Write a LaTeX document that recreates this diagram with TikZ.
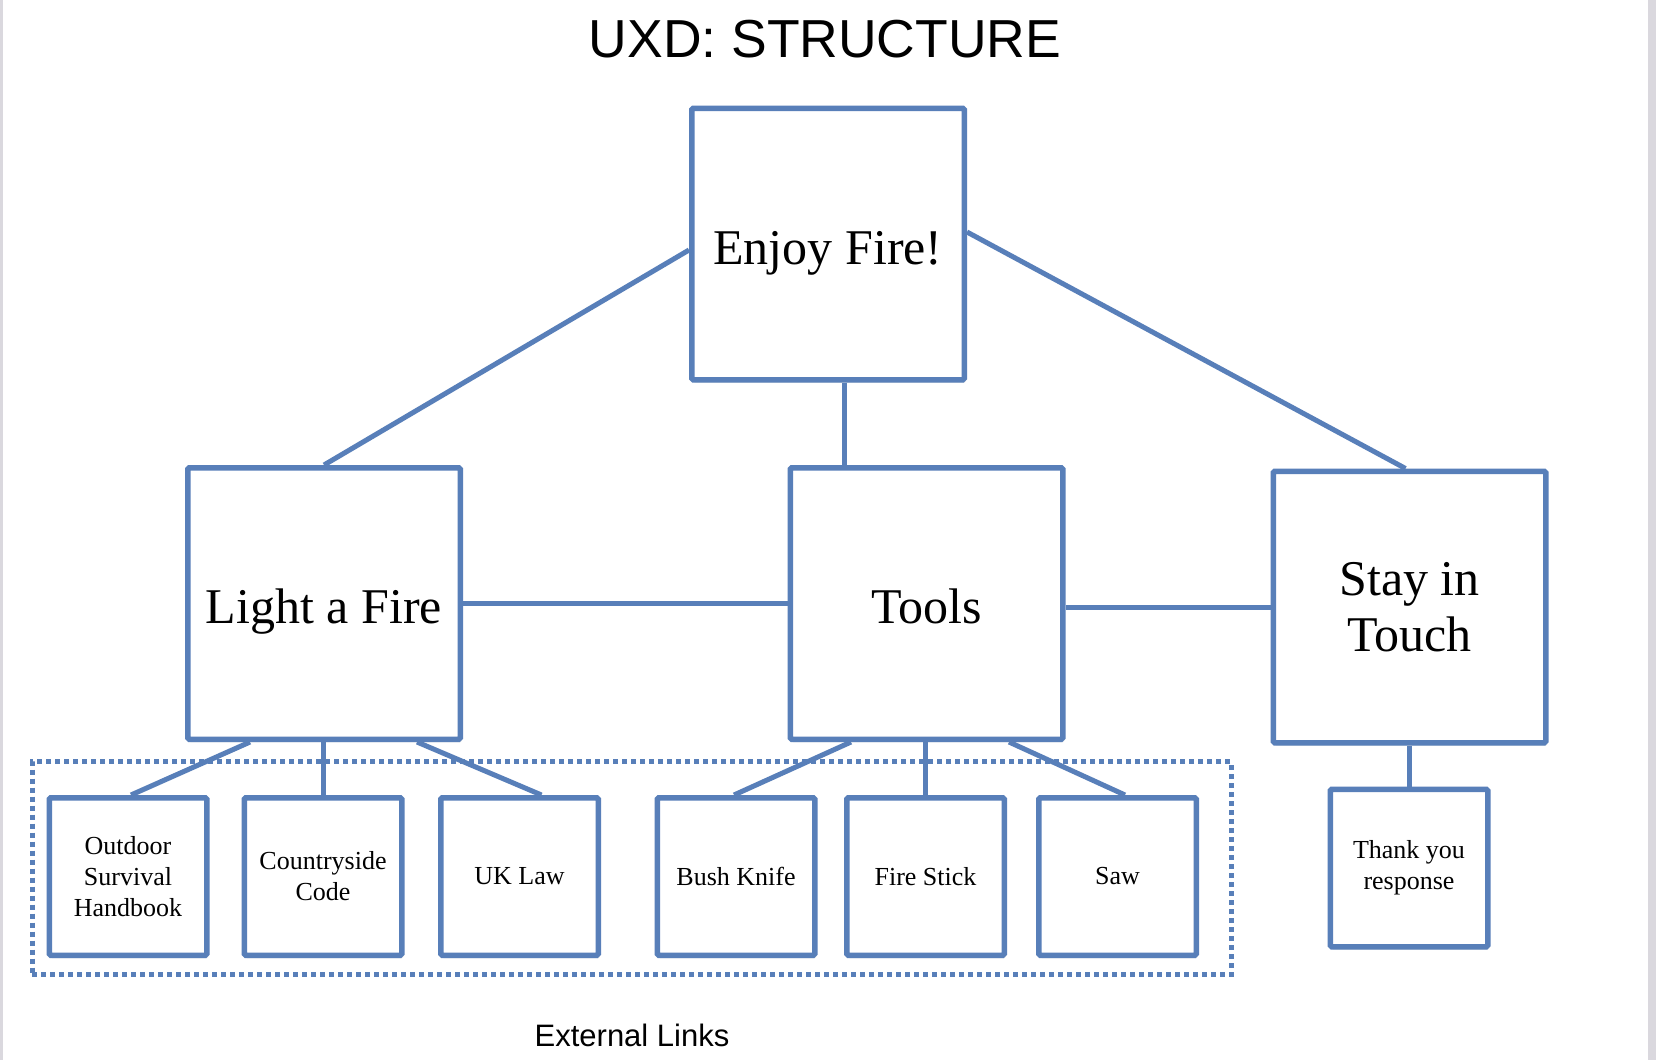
\documentclass[tikz,border=0pt]{standalone}
\usepackage{fontspec}
\setmainfont{Liberation Serif}
\newfontfamily\titlesans{Liberation Sans}
\usetikzlibrary{calc,shadows}
\definecolor{boxblue}{RGB}{88,127,185}
\definecolor{edgegrey}{RGB}{218,216,222}
\pgfdeclarelayer{bg}
\pgfdeclarelayer{paper}
\pgfsetlayers{paper,bg,main}
\tikzset{
  bigbox/.style={draw=boxblue, line width=5.5pt, fill=white, rounded corners=1.5pt,
    minimum width=272.5pt, minimum height=271.5pt, align=center, inner sep=0pt,
    font=\fontsize{50}{56}\selectfont,
    drop shadow={opacity=0.15, shadow xshift=1.5pt, shadow yshift=-3pt}},
  oneline/.style={text height=40pt, text depth=0pt},
  smallbox/.style={draw=boxblue, line width=5.5pt, fill=white, rounded corners=1.5pt,
    minimum width=157.5pt, minimum height=157.5pt, align=center, inner sep=0pt,
    font=\fontsize{26}{31}\selectfont,
    drop shadow={opacity=0.15, shadow xshift=1.5pt, shadow yshift=-3pt}},
  link/.style={draw=boxblue, line width=5pt},
  dotbox/.style={draw=boxblue, line width=5pt, dash pattern=on 5pt off 4pt,
    minimum width=1199pt, minimum height=213pt, inner sep=0pt},
}
\begin{document}
\begin{tikzpicture}[x=1pt,y=-1pt]
\useasboundingbox (0,0) rectangle (1656,1060);
\begin{pgfonlayer}{paper}
\fill[white] (0,0) rectangle (1656,1060);
\fill[edgegrey] (0,0) rectangle (3,1060);
\fill[edgegrey] (1648,0) rectangle (1656,1060);
\end{pgfonlayer}

\node[font=\titlesans\fontsize{53.5}{60}\selectfont] (title) at (825,39) {UXD: STRUCTURE};

\node[bigbox, oneline] (enjoy) at (828,244) {Enjoy Fire!};
\node[bigbox, oneline] (light) at (324,603.5) {Light a Fire};
\node[bigbox, oneline] (tools) at (926.5,603.5) {Tools};
\node[bigbox] (stay) at (1409.5,607) {\raisebox{-3pt}{Stay in}\\\raisebox{-3pt}{Touch}};

\node[dotbox] (ext) at (631.5,868) {};

\node[smallbox] (outdoor) at (128,876.5) {Outdoor\\Survival\\Handbook};
\node[smallbox] (country) at (323,876.5) {Countryside\\Code};
\node[smallbox] (uklaw) at (519.5,876.5) {UK Law};
\node[smallbox] (bush) at (736,876.5) {Bush Knife};
\node[smallbox] (fire) at (925.5,876.5) {Fire Stick};
\node[smallbox] (saw) at (1117.5,876.5) {Saw};
\node[smallbox] (thank) at (1409,868) {Thank you\\response};

\node[font=\titlesans\fontsize{31}{36}\selectfont] (extlabel) at (632,1035) {External Links};

\begin{pgfonlayer}{bg}
\draw[link] ($(enjoy.west)+(0,6)$) -- (light.north);
\draw[link] ($(enjoy.south)+(16,0)$) -- ($(tools.north)+(-82.5,0)$);
\draw[link] ($(enjoy.east)+(0,-12)$) -- ($(stay.north)+(-4,0)$);
\draw[link] (light.east) -- (tools.west);
\draw[link] ($(tools.east)+(0,3.5)$) -- (stay.west);
\draw[link] ($(light.south)+(-74,0)$) -- ($(outdoor.north)+(3,0)$);
\draw[link] (country.north |- light.south) -- (country.north);
\draw[link] ($(light.south)+(93,0)$) -- ($(uklaw.north)+(22,0)$);
\draw[link] ($(tools.south)+(-75.5,0)$) -- ($(bush.north)+(-2,0)$);
\draw[link] (fire.north |- tools.south) -- (fire.north);
\draw[link] ($(tools.south)+(82.5,0)$) -- ($(saw.north)+(7.5,0)$);
\draw[link] (thank.north |- stay.south) -- (thank.north);
\end{pgfonlayer}
\end{tikzpicture}
\end{document}
